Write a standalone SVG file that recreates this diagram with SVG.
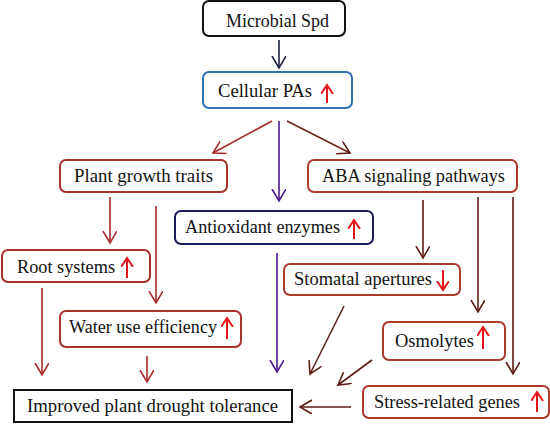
<svg xmlns="http://www.w3.org/2000/svg" width="550" height="427" viewBox="0 0 550 427">
<style>
text{font-family:"Liberation Serif","DejaVu Serif",serif;font-size:18px;fill:#111;}
.box{fill:#fff;stroke-width:2;}
.rb{stroke:#a8322c;}
.c{fill:none;stroke-width:1.6;}
.up{fill:none;stroke:#e3161c;stroke-width:2;marker-end:url(#mRed);}
</style>
<defs>
<marker id="mNavy" markerUnits="userSpaceOnUse" markerWidth="16" markerHeight="16" refX="12" refY="7" orient="auto"><path d="M0,0 L12,7 L0,14" fill="none" stroke="#1b2040" stroke-width="1.6"/></marker>
<marker id="mRB" markerUnits="userSpaceOnUse" markerWidth="16" markerHeight="16" refX="12" refY="7" orient="auto"><path d="M0,0 L12,7 L0,14" fill="none" stroke="#a52a2a" stroke-width="1.6"/></marker>
<marker id="mBr" markerUnits="userSpaceOnUse" markerWidth="16" markerHeight="16" refX="12" refY="7" orient="auto"><path d="M0,0 L12,7 L0,14" fill="none" stroke="#5e1c14" stroke-width="1.6"/></marker>
<marker id="mPu" markerUnits="userSpaceOnUse" markerWidth="16" markerHeight="16" refX="12" refY="7" orient="auto"><path d="M0,0 L12,7 L0,14" fill="none" stroke="#4a1a8c" stroke-width="1.6"/></marker>
<marker id="mRed" markerUnits="userSpaceOnUse" markerWidth="14" markerHeight="14" refX="9" refY="6" orient="auto"><path d="M0,0 L9,6 L0,12" fill="none" stroke="#e3161c" stroke-width="2"/></marker>
</defs>
<g id="connectors">
<line class="c" x1="279" y1="40" x2="279" y2="68" stroke="#1b2040" marker-end="url(#mNavy)"/>
<line class="c" x1="272" y1="121" x2="213" y2="153" stroke="#a52a2a" marker-end="url(#mRB)"/>
<line class="c" x1="279" y1="121" x2="279" y2="201" stroke="#4a1a8c" marker-end="url(#mPu)"/>
<line class="c" x1="287" y1="121" x2="350" y2="153" stroke="#6b2418" marker-end="url(#mBr)"/>
<line class="c" x1="110" y1="197" x2="110" y2="243" stroke="#a52a2a" marker-end="url(#mRB)"/>
<line class="c" x1="156" y1="206" x2="156" y2="303" stroke="#a52a2a" marker-end="url(#mRB)"/>
<line class="c" x1="42" y1="288" x2="42" y2="375" stroke="#a52a2a" marker-end="url(#mRB)"/>
<line class="c" x1="147" y1="356" x2="147" y2="382" stroke="#a52a2a" marker-end="url(#mRB)"/>
<line class="c" x1="277" y1="253" x2="277" y2="372" stroke="#4a1a8c" marker-end="url(#mPu)"/>
<line class="c" x1="423" y1="200" x2="423" y2="258" stroke="#5e1c14" marker-end="url(#mBr)"/>
<line class="c" x1="478" y1="197" x2="478" y2="312" stroke="#5e1c14" marker-end="url(#mBr)"/>
<line class="c" x1="513" y1="197" x2="513" y2="374" stroke="#5e1c14" marker-end="url(#mBr)"/>
<line class="c" x1="344" y1="306" x2="310" y2="374" stroke="#5e1c14" marker-end="url(#mBr)"/>
<line class="c" x1="372" y1="360" x2="338" y2="385" stroke="#5e1c14" marker-end="url(#mBr)"/>
<line class="c" x1="351" y1="407" x2="300" y2="407" stroke="#5e1c14" marker-end="url(#mBr)"/>
</g>
<g id="microbial-spd"><rect class="box" x="203" y="1" width="142" height="35" rx="6" stroke="#111"/><text x="226" y="27" textLength="103" lengthAdjust="spacingAndGlyphs">Microbial Spd</text></g>
<g id="cellular-pas"><rect class="box" x="203" y="72" width="149" height="36" rx="6" stroke="#2e72b4"/><text x="218" y="97" textLength="94" lengthAdjust="spacingAndGlyphs">Cellular PAs</text><line class="up" x1="327" y1="103" x2="327" y2="85"/></g>
<g id="plant-growth"><rect class="box rb" x="60" y="160" width="167" height="32" rx="6"/><text x="74" y="182" textLength="139" lengthAdjust="spacingAndGlyphs">Plant growth traits</text></g>
<g id="aba"><rect class="box" x="308" y="160" width="209" height="32" rx="6" stroke="#ad3a2c"/><text x="322" y="182" textLength="183" lengthAdjust="spacingAndGlyphs">ABA signaling pathways</text></g>
<g id="antioxidant"><rect class="box" x="175" y="211" width="198" height="33" rx="6" stroke="#1b1b5e"/><text x="185" y="233" textLength="155" lengthAdjust="spacingAndGlyphs">Antioxidant enzymes</text><line class="up" x1="354" y1="239" x2="354" y2="220"/></g>
<g id="root"><rect class="box rb" x="2" y="250" width="148" height="32" rx="6"/><text x="17" y="273" textLength="98" lengthAdjust="spacingAndGlyphs">Root systems</text><line class="up" x1="127" y1="278" x2="127" y2="258"/></g>
<g id="stomatal"><rect class="box" x="284" y="264" width="176" height="31" rx="6" stroke="#ad3a2c"/><text x="294" y="285" textLength="138" lengthAdjust="spacingAndGlyphs">Stomatal apertures</text><line class="up" x1="443" y1="270" x2="443" y2="290"/></g>
<g id="water"><rect class="box rb" x="60" y="311" width="181" height="36" rx="6"/><text x="69" y="333" textLength="148" lengthAdjust="spacingAndGlyphs">Water use efficiency</text><line class="up" x1="227" y1="339" x2="227" y2="318"/></g>
<g id="osmolytes"><rect class="box" x="383" y="322" width="122" height="38" rx="6" stroke="#ad3a2c"/><text x="395" y="347" textLength="79" lengthAdjust="spacingAndGlyphs">Osmolytes</text><line class="up" x1="483" y1="349" x2="483" y2="327"/></g>
<g id="stress"><rect class="box" x="363" y="386" width="186" height="32" rx="6" stroke="#ad3a2c"/><text x="374" y="408" textLength="146" lengthAdjust="spacingAndGlyphs">Stress-related genes</text><line class="up" x1="537" y1="412" x2="537" y2="392"/></g>
<g id="improved"><rect class="box" x="14" y="390" width="278" height="32" stroke="#111"/><text x="27" y="412" textLength="251" lengthAdjust="spacingAndGlyphs">Improved plant drought tolerance</text></g>
</svg>
